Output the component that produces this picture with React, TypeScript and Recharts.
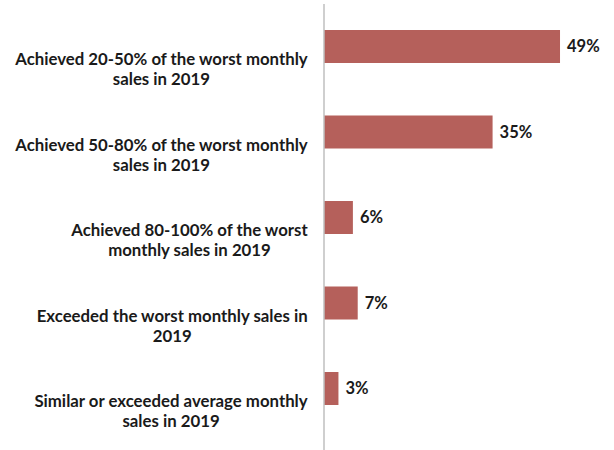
import React from "react";
import { BarChart, Bar, XAxis, YAxis, LabelList } from "recharts";

const categories = [
  "Achieved 20-50% of the worst monthly sales in 2019",
  "Achieved 50-80% of the worst monthly sales in 2019",
  "Achieved 80-100% of the worst monthly sales in 2019",
  "Exceeded the worst monthly sales in 2019",
  "Similar or exceeded average monthly sales in 2019",
];
const shares = [49, 35, 6, 7, 3];

const data = categories.map((c, i) => ({ name: c, value: shares[i] }));

const FONT = "Lato, 'Open Sans', sans-serif";
const TEXT = "#1a1a1a";
const LABEL_SIZE = 16.8;

function wrap(s: string, max: number): string[] {
  const words = s.split(" ");
  const lines: string[] = [];
  let cur = "";
  for (const w of words) {
    const t = cur ? cur + " " + w : w;
    if (t.length > max && cur) {
      lines.push(cur);
      cur = w;
    } else cur = t;
  }
  if (cur) lines.push(cur);
  return lines;
}

let ctx: CanvasRenderingContext2D | null = null;
function measure(s: string): number {
  if (!ctx) {
    const c = document.createElement("canvas");
    ctx = c.getContext("2d");
  }
  if (!ctx) return s.length * LABEL_SIZE * 0.5;
  ctx.font = `bold ${LABEL_SIZE}px Lato`;
  return ctx.measureText(s).width;
}

const CatTick = (props: any) => {
  const { y, payload } = props;
  const lines = wrap(String(payload.value), 36);
  const lh = 20;
  const start = y + 21.5 - ((lines.length - 1) * lh) / 2;
  const maxW = Math.max(...lines.map(measure));
  const cx = 308 - maxW / 2;
  return (
    <text
      x={cx}
      y={start}
      textAnchor="middle"
      dominantBaseline="central"
      fontFamily={FONT}
      fontWeight={700}
      fontSize={LABEL_SIZE}
      fill={TEXT}
    >
      {lines.map((l, i) => (
        <tspan key={i} x={cx} y={start + i * lh}>
          {l}
        </tspan>
      ))}
    </text>
  );
};

export default function App() {
  return (
    <div style={{ position: "absolute", left: 0, top: 0, width: 614, height: 450, background: "#fff" }}>
      <BarChart
        width={614}
        height={450}
        data={data}
        layout="vertical"
        margin={{ top: 4, right: 1, bottom: 0, left: 0 }}
        barCategoryGap={0}
      >
        <XAxis type="number" domain={[0, 60]} hide />
        <YAxis
          type="category"
          dataKey="name"
          width={324}
          tickLine={false}
          axisLine={{ stroke: "#bfbfbf", strokeWidth: 1.5 }}
          tick={<CatTick />}
          interval={0}
          padding={{ top: 0, bottom: 18.5 }}
        />
        <Bar dataKey="value" fill="#b5605b" barSize={33} isAnimationActive={false}>
          <LabelList
            dataKey="value"
            position="right"
            offset={7}
            formatter={(v: any) => `${v}%`}
            style={{ fontFamily: FONT, fontWeight: 700, fontSize: 16.5, fill: TEXT }}
          />
        </Bar>
      </BarChart>
    </div>
  );
}
